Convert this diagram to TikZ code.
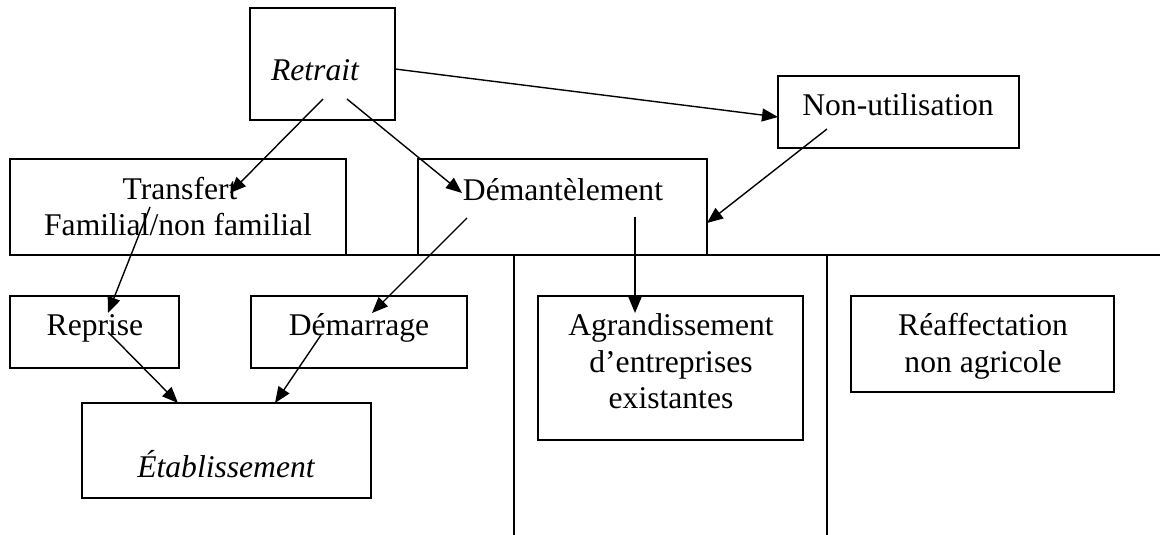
\documentclass[tikz,border=0pt]{standalone}
\usepackage{fontspec}
\setmainfont{Liberation Serif}
\usetikzlibrary{arrows.meta}
\begin{document}
\begin{tikzpicture}[x=1pt,y=-1pt,
  box/.style={draw, line width=1.7pt, inner sep=0pt, outer sep=0pt},
  txt/.style={anchor=base, inner sep=0pt, font=\fontsize{31.6}{37.5}\selectfont},
  itxt/.style={anchor=base, inner sep=0pt, font=\fontsize{31.6}{37.5}\selectfont\itshape},
  arr/.style={line width=1.4pt, -{Triangle[length=16pt,width=13pt]}},
  sep/.style={line width=1.4pt}]
\useasboundingbox (0,0) rectangle (1160,535);
\fill[white] (0,0) rectangle (1160,535);

% boxes
\node[box, minimum width=145pt, minimum height=112pt] (retrait) at (322.5,64) {};
\node[box, minimum width=241pt, minimum height=72pt] (nonutil) at (898.5,112) {};
\node[box, minimum width=336pt, minimum height=96pt] (transfert) at (178,207) {};
\node[box, minimum width=289pt, minimum height=96pt] (demant) at (562.5,207) {};
\node[box, minimum width=169pt, minimum height=72pt] (reprise) at (94.5,332) {};
\node[box, minimum width=216pt, minimum height=72pt] (demarr) at (359,332) {};
\node[box, minimum width=289pt, minimum height=95pt] (etab) at (226.5,450.5) {};
\node[box, minimum width=265pt, minimum height=144pt] (agr) at (670.5,368) {};
\node[box, minimum width=263pt, minimum height=96pt] (reaff) at (982.5,344) {};

% texts
\node[itxt] (tRetrait) at (315,81) {Retrait};
\node[txt] (tNon) at (898,115) {Non-utilisation};
\node[txt] (tTrans1) at (180,199) {Transfert};
\node[txt] (tTrans2) at (178,235) {Familial/non familial};
\node[txt] (tDem) at (563,200) {Démantèlement};
\node[txt] (tRep) at (95,335) {Reprise};
\node[txt] (tDemar) at (359,335) {Démarrage};
\node[itxt] (tEtab) at (226,477) {Établissement};
\node[txt] (tAgr1) at (671,335) {Agrandissement};
\node[txt] (tAgr2) at (671,372) {d’entreprises};
\node[txt] (tAgr3) at (671,408) {existantes};
\node[txt] (tRea1) at (983,335) {Réaffectation};
\node[txt] (tRea2) at (983,372) {non agricole};

% separators
\coordinate (hl1) at (10,255);
\coordinate (hl2) at (1160,255);
\coordinate (v1t) at (514,255);
\coordinate (v1b) at (514,535);
\coordinate (v2t) at (827,255);
\coordinate (v2b) at (827,535);
\draw[sep, line width=1.8pt] (hl1) -- (hl2);
\draw[sep] (v1t) -- (v1b);
\draw[sep] (v2t) -- (v2b);

% arrow end points
\coordinate (a1s) at (323,99);  \coordinate (a1e) at (230,193);
\coordinate (a2s) at (347,99);  \coordinate (a2e) at (462,193);
\coordinate (a3s) at (395,69);  \coordinate (a3e) at (778,117);
\coordinate (a4s) at (827,129); \coordinate (a4e) at (707,223);
\coordinate (a5s) at (150,207); \coordinate (a5e) at (108,313);
\coordinate (a6s) at (467,218); \coordinate (a6e) at (372,313);
\coordinate (a7s) at (635,217); \coordinate (a7e) at (635,313);
\coordinate (a8s) at (108,332); \coordinate (a8e) at (178,403);
\coordinate (a9s) at (321,335); \coordinate (a9e) at (275,403);

\draw[arr] (a1s) -- (a1e);
\draw[arr] (a2s) -- (a2e);
\draw[arr] (a3s) -- (a3e);
\draw[arr] (a4s) -- (a4e);
\draw[arr] (a5s) -- (a5e);
\draw[arr] (a6s) -- (a6e);
\draw[arr] (a7s) -- (a7e);
\draw[arr] (a8s) -- (a8e);
\draw[arr] (a9s) -- (a9e);
\end{tikzpicture}
\end{document}
